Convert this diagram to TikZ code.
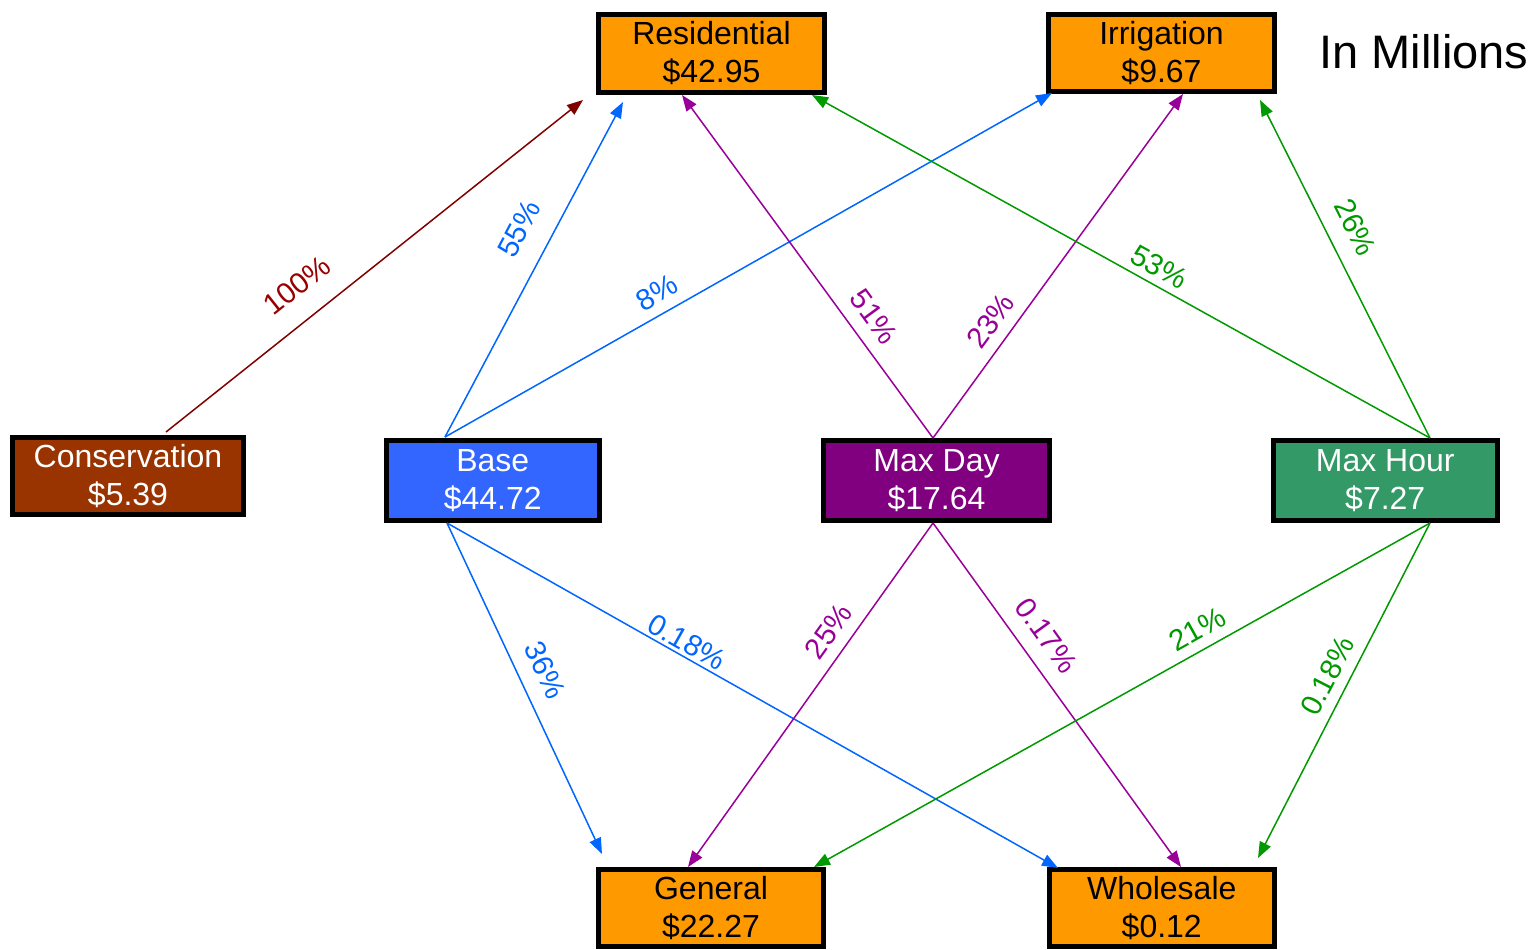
\documentclass[tikz,border=0pt]{standalone}
\usepackage{fontspec}
\setmainfont{Liberation Sans}
\usetikzlibrary{arrows.meta}
\definecolor{orangebox}{HTML}{FF9900}
\definecolor{brownbox}{HTML}{993300}
\definecolor{bluebox}{HTML}{3366FF}
\definecolor{purplebox}{HTML}{800080}
\definecolor{greenbox}{HTML}{339966}
\definecolor{redline}{HTML}{800000}
\definecolor{redlabel}{HTML}{990000}
\definecolor{blueline}{HTML}{0066FF}
\definecolor{purpleline}{HTML}{990099}
\definecolor{greenline}{HTML}{009900}
\begin{document}
\begin{tikzpicture}[x=1pt,y=-1pt,
  box/.style={draw=black, line width=5pt, inner sep=0pt, align=center,
    font=\fontsize{32}{38}\selectfont},
  outbox/.style={box, fill=orangebox, text=black},
  inbox/.style={box, text=white},
  flow/.style={line width=1.5pt, -{Triangle[length=16pt,width=12pt]}},
  pct/.style={sloped, inner sep=0pt, font=\fontsize{29.5}{32}\selectfont}
]
\useasboundingbox (0,0) rectangle (1534,950);
% boxes
\node[outbox, minimum width=226pt, minimum height=78pt] (res) at (711.5,53.5) {Residential\\\$42.95};
\node[outbox, minimum width=226pt, minimum height=77pt] (irr) at (1161.5,53) {Irrigation\\\$9.67};
\node[inbox, fill=brownbox, minimum width=231pt, minimum height=77pt] (cons) at (128,476) {Conservation\\\$5.39};
\node[inbox, fill=bluebox, minimum width=213.5pt, minimum height=80pt] (base) at (492.75,480.5) {Base\\\$44.72};
\node[inbox, fill=purplebox, minimum width=226pt, minimum height=80pt] (maxday) at (936.5,480.5) {Max Day\\\$17.64};
\node[inbox, fill=greenbox, minimum width=224.5pt, minimum height=80pt] (maxhour) at (1385.25,480.5) {Max Hour\\\$7.27};
\node[outbox, minimum width=225pt, minimum height=77pt] (gen) at (711,908) {General\\\$22.27};
\node[outbox, minimum width=225.5pt, minimum height=77pt] (whs) at (1161.75,908) {Wholesale\\\$0.12};
\node[font=\fontsize{47}{50}\selectfont, inner sep=0pt] (unit) at (1424,52) {In Millions};
% connector ends
\coordinate (cs) at (166,432);
\coordinate (bt) at (445,437);
\coordinate (bb) at (447,523);
\coordinate (dt) at (933,438);
\coordinate (db) at (933,523);
\coordinate (ht) at (1430,438);
\coordinate (hb) at (1430,523);
\coordinate (r1) at (583,100);
\coordinate (r2) at (623,102);
\coordinate (r3) at (682,95);
\coordinate (r4) at (812,95);
\coordinate (i1) at (1052,93);
\coordinate (i2) at (1183,94);
\coordinate (i3) at (1260,100);
\coordinate (g1) at (602,854);
\coordinate (g2) at (688,867);
\coordinate (g3) at (814,867);
\coordinate (w1) at (1058,868);
\coordinate (w2) at (1181,867);
\coordinate (w3) at (1258,858);
% connectors
\draw[flow, redline] (cs) -- node[pct, pos=0.363, above=22pt, text=redlabel] {100\%} (r1);
\draw[flow, blueline] (bt) -- node[pct, pos=0.576, above=21pt, text=blueline] {55\%} (r2);
\draw[flow, blueline] (bt) -- node[pct, pos=0.366, above=10pt, text=blueline] {8\%} (i1);
\draw[flow, purpleline] (dt) -- node[pct, pos=0.312, above=13pt, text=purpleline] {51\%} (r3);
\draw[flow, purpleline] (dt) -- node[pct, pos=0.303, above=11pt, text=purpleline] {23\%} (i2);
\draw[flow, greenline] (ht) -- node[pct, pos=0.4525, above=7pt, text=greenline] {53\%} (r4);
\draw[flow, greenline] (ht) -- node[pct, pos=0.586, above=17pt, text=greenline] {26\%} (i3);
\draw[flow, blueline] (bb) -- node[pct, pos=0.479, above=15.5pt, text=blueline] {36\%} (g1);
\draw[flow, blueline] (bb) -- node[pct, pos=0.381, above=3pt, text=blueline] {0.18\%} (w1);
\draw[flow, purpleline] (db) -- node[pct, pos=0.352, above=11pt, text=purpleline] {25\%} (g2);
\draw[flow, purpleline] (db) -- node[pct, pos=0.372, above=15pt, text=purpleline] {0.17\%} (w2);
\draw[flow, greenline] (hb) -- node[pct, pos=0.361, above=10pt, text=greenline] {21\%} (g3);
\draw[flow, greenline] (hb) -- node[pct, pos=0.486, above=10pt, text=greenline] {0.18\%} (w3);
\end{tikzpicture}
\end{document}
